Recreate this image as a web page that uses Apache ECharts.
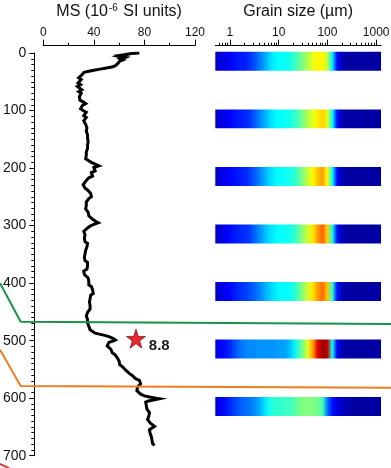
<!DOCTYPE html>
<html lang="en">
<head>
<meta charset="UTF-8">
<title>MS and grain size profile</title>
<style>
html, body { margin: 0; padding: 0; background: #fff; }
#main { width: 391px; height: 468px; }
</style>
</head>
<body>
<div id="main"></div>
<script src="https://cdn.jsdelivr.net/npm/echarts@6/dist/echarts.min.js"></script>
<script>
// MS profile, depth (cm) vs magnetic susceptibility (10^-6 SI)
var msDepth = [0, 1, 2, 3, 4, 5, 6, 7, 8, 9, 10, 12, 14, 16, 18, 20, 22, 24, 26, 28, 30, 32, 34, 36, 38,
    40, 43, 46, 49, 52, 55, 58, 61, 64, 67, 70, 73, 76, 79, 82, 85, 88, 91, 94, 97,
    100, 103, 106, 109, 112, 115, 118, 121, 124, 127, 130, 133, 136, 139, 142, 145, 148, 151, 154, 157,
    160, 163, 166, 169, 172, 175, 178, 181, 184, 187, 190, 193, 196, 199, 202, 205, 208, 211, 214, 217,
    220, 223, 226, 229, 232, 235, 238, 241, 244, 247, 250, 253, 256, 259, 262, 265, 268, 271, 274, 277,
    280, 283, 286, 289, 292, 295, 298, 301, 304, 307, 310, 313, 316, 319, 322, 325, 328, 331, 334, 337,
    340, 343, 346, 349, 352, 355, 358, 361, 364, 367, 370, 373, 376, 379, 382, 385, 388, 391, 394, 397,
    400, 403, 406, 409, 412, 415, 418, 421, 424, 427, 430, 433, 436, 439, 442, 445, 448, 451, 454, 457,
    460, 463, 466, 469, 472, 475, 478, 481, 484, 487, 490, 493, 496, 499, 501, 503, 506, 509, 512, 515,
    518, 521, 524, 527, 530, 533, 536, 539, 542, 545, 548, 551, 554, 557, 560, 563, 566, 569, 572, 575,
    578, 581, 584, 587, 590, 593, 596, 598, 600, 601, 603, 605, 607, 610, 613, 616, 619, 622, 625, 628,
    631, 634, 637, 640, 643, 646, 649, 652, 655, 658, 661, 664, 667, 670, 673, 676, 679, 682];
var msValue = [76, 70, 66, 64, 61, 63, 60, 62, 64, 63, 61, 63, 60.5, 61, 59, 58, 57, 55, 50, 45, 40, 35, 32, 31, 30.5,
    29.5, 28, 30, 28.5, 27.5, 29.5, 27, 28.5, 30.5, 28, 30, 31, 28.5, 27.5, 29, 31.5, 33.5, 31, 30, 29.5,
    31.5, 34, 35, 32, 34, 33, 32, 31.5, 33.5, 32.5, 34.5, 33.5, 34, 33, 35, 33.5, 35, 34, 35.5, 34,
    35, 36, 35, 36.5, 34, 35.5, 34, 35, 33.5, 35, 38, 41, 44, 40, 39, 41, 38, 37.5, 39, 36,
    35, 33.5, 33, 31.5, 32.5, 33, 35, 36, 37.5, 36.5, 38, 36, 35, 34, 33, 34, 32.5, 33.5, 34, 35.5,
    34.5, 36, 37, 39, 41, 43.5, 40, 37, 35, 33.5, 32, 31, 33, 31.5, 32.5, 34, 33, 35, 36, 34.5,
    35, 33.5, 34.5, 33, 34, 32.5, 34, 33, 35, 34, 35, 33.5, 34.5, 32, 31, 32.5, 34, 35.5, 34.5, 36,
    37, 36, 38, 37.5, 39, 38, 39.5, 37.5, 38.5, 37, 38.5, 36.5, 38, 37, 35.5, 37, 36, 35, 36.5, 34,
    33.5, 35, 34, 35, 34.5, 36, 35.5, 37, 38, 41, 47, 52, 55, 57, 55, 52, 51.5, 50.5, 52, 53.5,
    55, 54.5, 56.5, 57, 58.5, 58, 60, 61, 60.5, 62.5, 64, 65, 66.5, 68, 70, 71, 73, 76, 77.5, 77,
    76.5, 74.5, 73.5, 74, 75.5, 77, 80, 84, 89, 92, 88, 83, 81, 80.5, 81.5, 80, 82, 81.5, 84, 85,
    83.5, 84.5, 82.5, 83, 84.5, 86, 88, 86, 84, 83, 84.5, 84, 85.5, 87, 86, 87.5, 86.5, 88];

// grain size spectra: bins in log10(um), relative frequency 0..1 (colour scale)
var binLog = [-0.3, -0.2, -0.1, 0, 0.1, 0.2, 0.3, 0.4, 0.5, 0.6, 0.7, 0.8, 0.9, 1, 1.1, 1.2, 1.3,
    1.4, 1.5, 1.6, 1.7, 1.8, 1.9, 2, 2.1, 2.2, 2.3, 2.4, 2.5, 2.6, 2.7, 2.8, 2.9, 3, 3.1];
var gs0 = [0.07, 0.09, 0.1, 0.12, 0.14, 0.15, 0.15, 0.17, 0.2, 0.24, 0.28, 0.33, 0.36, 0.38, 0.38, 0.39, 0.42,
    0.46, 0.5, 0.55, 0.6, 0.63, 0.63, 0.56, 0.36, 0.13, 0.05, 0.04, 0.03, 0.04, 0.03, 0.04, 0.03, 0.04, 0.03];
var gs100 = [0.07, 0.09, 0.11, 0.12, 0.14, 0.15, 0.16, 0.17, 0.21, 0.25, 0.29, 0.33, 0.36, 0.38, 0.38, 0.39, 0.41,
    0.45, 0.5, 0.55, 0.6, 0.64, 0.67, 0.6, 0.38, 0.13, 0.05, 0.04, 0.03, 0.04, 0.04, 0.03, 0.04, 0.03, 0.04];
var gs200 = [0.07, 0.09, 0.11, 0.13, 0.14, 0.15, 0.16, 0.18, 0.21, 0.25, 0.29, 0.33, 0.36, 0.38, 0.38, 0.39, 0.41,
    0.45, 0.51, 0.57, 0.63, 0.68, 0.72, 0.63, 0.38, 0.13, 0.05, 0.04, 0.03, 0.04, 0.03, 0.04, 0.04, 0.03, 0.04];
var gs300 = [0.07, 0.09, 0.11, 0.13, 0.15, 0.16, 0.17, 0.18, 0.22, 0.26, 0.3, 0.34, 0.36, 0.38, 0.38, 0.39, 0.41,
    0.46, 0.52, 0.58, 0.65, 0.72, 0.78, 0.67, 0.4, 0.14, 0.05, 0.04, 0.03, 0.04, 0.03, 0.04, 0.03, 0.04, 0.03];
var gs400 = [0.07, 0.09, 0.11, 0.13, 0.15, 0.17, 0.18, 0.2, 0.22, 0.25, 0.29, 0.32, 0.35, 0.37, 0.37, 0.38, 0.4,
    0.45, 0.52, 0.58, 0.65, 0.72, 0.77, 0.68, 0.42, 0.14, 0.05, 0.04, 0.04, 0.03, 0.04, 0.03, 0.04, 0.03, 0.04];
var gs500 = [0.1, 0.12, 0.14, 0.16, 0.2, 0.23, 0.25, 0.26, 0.26, 0.27, 0.27, 0.27, 0.27, 0.28, 0.28, 0.3, 0.35,
    0.42, 0.5, 0.6, 0.72, 0.9, 0.97, 0.94, 0.4, 0.12, 0.05, 0.04, 0.03, 0.04, 0.03, 0.04, 0.03, 0.04, 0.03];
var gs600 = [0.09, 0.11, 0.14, 0.16, 0.19, 0.21, 0.23, 0.24, 0.26, 0.29, 0.34, 0.39, 0.42, 0.42, 0.43, 0.43, 0.45,
    0.48, 0.5, 0.5, 0.5, 0.49, 0.44, 0.24, 0.14, 0.1, 0.07, 0.05, 0.04, 0.03, 0.04, 0.03, 0.04, 0.03, 0.04];
var stripDepth = [0, 100, 200, 300, 400, 500, 600];
var stripFreq = [gs0, gs100, gs200, gs300, gs400, gs500, gs600];

// axis ticks
var grainMajor = [1, 10, 100, 1000];
var grainLabels = ['1', '10', '100', '1000'];
var grainMinor = [0.5, 0.6, 0.7, 0.8, 0.9, 2, 3, 4, 5, 6, 7, 8, 9, 20, 30, 40, 50, 60, 70, 80, 90,
    200, 300, 400, 500, 600, 700, 800, 900];

// annotations: correlation lines [MS, depth] and the dated point
var greenLine = [[-34.3, 400], [-17.9, 467], [275, 471]];
var orangeLine = [[-34.3, 516], [-17.9, 579], [275, 582]];
var starPoint = [73.3, 496.6];
var starLabel = '8.8';

var font = 'Liberation Sans, Arial, sans-serif';
var stripThick = 33;

function jet(v) {
    function c(x) { return Math.max(0, Math.min(1, x)); }
    var r = c(1.5 - Math.abs(4 * v - 3));
    var g = c(1.5 - Math.abs(4 * v - 2));
    var b = c(1.5 - Math.abs(4 * v - 1));
    return 'rgb(' + Math.round(r * 255) + ',' + Math.round(g * 255) + ',' + Math.round(b * 255) + ')';
}

var msData = msDepth.map(function (d, i) { return [msValue[i], d]; });
var lg = function (v) { return Math.log(v) / Math.LN10; };

var myChart = echarts.init(document.getElementById('main'));
var option = {
    animation: false,
    backgroundColor: '#fff',
    textStyle: { fontFamily: font },
    grid: [
        { left: 43.3, top: 53, width: 151.7, height: 402.7, containLabel: false, outerBoundsMode: 'none' },
        { left: 215.3, top: 53, width: 165.7, height: 402.7, containLabel: false, outerBoundsMode: 'none' },
        // same MS/depth scale stretched over the whole width, for the correlation lines
        { left: 0, top: 53, width: 391, height: 402.7, containLabel: false, outerBoundsMode: 'none' }
    ],
    xAxis: [
        {
            gridIndex: 0, type: 'value', position: 'top', offset: 7.3,
            min: 0, max: 120, interval: 40,
            name: 'MS (10{sup|-6} SI units)', nameLocation: 'middle', nameGap: 26,
            nameTextStyle: {
                fontSize: 16, color: '#111', fontFamily: font,
                rich: { sup: { fontSize: 10, color: '#111', verticalAlign: 'top', lineHeight: 10, padding: [0, 1, 6, 1] } }
            },
            axisLine: { show: true, onZero: false, lineStyle: { color: '#000', width: 1 } },
            axisTick: { show: true, length: 6, lineStyle: { color: '#000' } },
            minorTick: { show: true, splitNumber: 2, length: 3, lineStyle: { color: '#000' } },
            splitLine: { show: false },
            axisLabel: { fontSize: 12, color: '#111', margin: 7, fontFamily: font }
        },
        {
            gridIndex: 1, type: 'value', position: 'top', offset: 7.3,
            min: -0.3, max: 3.1,
            name: 'Grain size (\u00b5m)', nameLocation: 'middle', nameGap: 26,
            nameTextStyle: { fontSize: 16, color: '#111', fontFamily: font },
            axisLine: { show: true, onZero: false, lineStyle: { color: '#000', width: 1 } },
            axisTick: { show: true, length: 6, customValues: grainMajor.map(lg), lineStyle: { color: '#000' } },
            splitLine: { show: false },
            axisLabel: {
                fontSize: 12, color: '#111', margin: 7, fontFamily: font,
                customValues: grainMajor.map(lg),
                formatter: function (v) { return grainLabels[Math.round(v)]; }
            }
        },
        {
            gridIndex: 1, type: 'value', position: 'top', offset: 7.3,
            min: -0.3, max: 3.1,
            axisLine: { show: false, onZero: false },
            axisTick: { show: true, length: 3, customValues: grainMinor.map(lg), lineStyle: { color: '#000' } },
            splitLine: { show: false },
            axisLabel: { show: false }
        },
        { gridIndex: 2, type: 'value', min: -34.3, max: 275, show: false }
    ],
    yAxis: [
        {
            gridIndex: 0, type: 'value', inverse: true, position: 'left', offset: 9,
            min: 0, max: 700, interval: 100,
            axisLine: { show: true, onZero: false, lineStyle: { color: '#000', width: 1 } },
            axisTick: { show: true, length: 5, lineStyle: { color: '#000' } },
            minorTick: { show: true, splitNumber: 10, length: 3, lineStyle: { color: '#000' } },
            splitLine: { show: false },
            axisLabel: { fontSize: 14, color: '#111', margin: 8, fontFamily: font }
        },
        { gridIndex: 1, type: 'value', inverse: true, min: 0, max: 700, show: false },
        { gridIndex: 2, type: 'value', inverse: true, min: 0, max: 700, show: false }
    ],
    graphic: [
        {
            type: 'circle', silent: true, z: 10,
            shape: { cx: -40, cy: 560, r: 104 },
            style: { fill: 'none', stroke: '#e0302e', lineWidth: 2 }
        }
    ],
    series: [
        {
            type: 'custom', xAxisIndex: 1, yAxisIndex: 1, silent: true,
            data: stripDepth.map(function (d) { return [binLog[0], d]; }),
            encode: { x: 0, y: 1 },
            renderItem: function (params, api) {
                var i = params.dataIndex;
                var d = api.value(1);
                var last = binLog.length - 1;
                var p0 = api.coord([binLog[0], d - 2]);
                var p1 = api.coord([binLog[last], d - 2 + stripThick]);
                var span = binLog[last] - binLog[0];
                var stops = binLog.map(function (b, k) {
                    return { offset: (b - binLog[0]) / span, color: jet(stripFreq[i][k]) };
                });
                return {
                    type: 'rect',
                    shape: { x: p0[0], y: p0[1], width: p1[0] - p0[0], height: p1[1] - p0[1] },
                    style: { fill: new echarts.graphic.LinearGradient(0, 0, 1, 0, stops) }
                };
            }
        },
        {
            name: 'MS', type: 'line', xAxisIndex: 0, yAxisIndex: 0,
            data: msData, showSymbol: false, symbol: 'none',
            lineStyle: { color: '#000', width: 3, join: 'miter' }, z: 5
        },
        {
            type: 'line', xAxisIndex: 3, yAxisIndex: 2, data: greenLine,
            symbol: 'none', silent: true, z: 6,
            lineStyle: { color: '#179547', width: 2 }
        },
        {
            type: 'line', xAxisIndex: 3, yAxisIndex: 2, data: orangeLine,
            symbol: 'none', silent: true, z: 6,
            lineStyle: { color: '#ee7d1f', width: 2 }
        },
        {
            type: 'scatter', xAxisIndex: 0, yAxisIndex: 0, data: [starPoint], z: 7,
            symbol: 'path://M50,0 L61.8,35.5 L99,35.5 L69,57.5 L80.5,93 L50,71 L19.5,93 L31,57.5 L1,35.5 L38.2,35.5 Z',
            symbolSize: [19, 19],
            itemStyle: { color: '#e8262c', opacity: 1, borderColor: '#6b1010', borderWidth: 0.7 },
            label: {
                show: true, position: 'right', distance: 3, offset: [0, 7],
                formatter: starLabel, fontSize: 15, fontWeight: 'bold', color: '#1a1a1a', fontFamily: font
            }
        }
    ]
};
myChart.setOption(option);
</script>
</body>
</html>
